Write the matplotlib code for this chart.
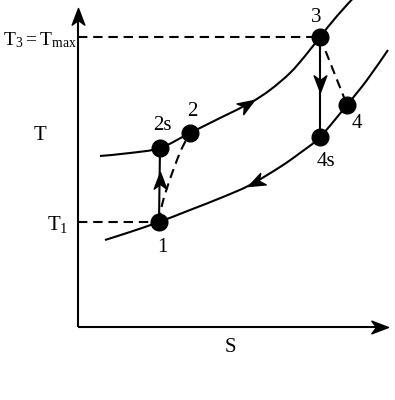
import numpy as np
import matplotlib
matplotlib.use("Agg")
import matplotlib.pyplot as plt
from matplotlib.path import Path
from matplotlib.patches import PathPatch
from matplotlib.markers import MarkerStyle
from matplotlib.transforms import Affine2D

plt.rcParams['font.family'] = ['Liberation Serif', 'DejaVu Serif']
plt.rcParams['mathtext.fontset'] = 'custom'
plt.rcParams['mathtext.rm'] = 'Liberation Serif'
plt.rcParams['mathtext.it'] = 'Liberation Serif'

H = 400  # T = H - pixel row (so T increases upward)

# High-pressure isobar (S, T)
upper_S = [100, 130, 160, 190, 220, 250, 270, 290, 305, 320, 337, 357]
upper_T = [H - v for v in [156, 153, 148, 133, 118, 103, 90, 73, 56, 37, 16, -6]]
# Low-pressure isobar
lower_S = [105, 130, 159, 190, 223, 250, 280, 300, 320, 347, 367, 388]
lower_T = [H - v for v in [240, 232, 222, 210, 197, 185, 167, 153, 137, 105, 80, 50]]
# Real compression 1 -> 2
comp_S = [159, 162, 167, 174, 182, 190]
comp_T = [H - v for v in [222, 205, 188, 168, 148, 133]]

# State points
state_names = ['1', '2s', '2', '3', '4s', '4']
state_S = [159, 160, 190, 320, 320, 347]
state_T = [H - v for v in [222, 148, 133, 37, 137, 105]]
label_S = [162, 162, 192, 316, 326, 357]
label_T = [H - v for v in [247, 126, 112, 17, 161, 123]]

# Axes origin / extent
origin_S, origin_T = 78, H - 327
s_end, t_end = 388, H - 8

fig = plt.figure(figsize=(3.95, 4.0), dpi=100)
ax = fig.add_axes([0, 0, 1, 1])
ax.set_xlim(0, 395)
ax.set_ylim(0, 400)
ax.axis('off')

LW = 1.5
st = dict(color='k', lw=LW, solid_capstyle='butt')
dash = (0, (4.5, 2.8))


def smooth(xs, ys, **kw):
    """Draw a smooth Catmull-Rom style Bezier path through the given points."""
    p = np.column_stack([xs, ys]).astype(float)
    verts = [p[0]]
    codes = [Path.MOVETO]
    n = len(p)
    for i in range(n - 1):
        p0 = p[i - 1] if i > 0 else p[i]
        p1, p2 = p[i], p[i + 1]
        p3 = p[i + 2] if i + 2 < n else p[i + 1]
        c1 = p1 + (p2 - p0) / 6.0
        c2 = p2 - (p3 - p1) / 6.0
        verts += [c1, c2, p2]
        codes += [Path.CURVE4] * 3
    ax.add_patch(PathPatch(Path(verts, codes), fill=False, edgecolor='k',
                           lw=LW, capstyle='butt', **kw))


head = Path([(0, 0), (-1, 0.38), (-0.72, 0), (-1, -0.38), (0, 0)],
            [Path.MOVETO, Path.LINETO, Path.LINETO, Path.LINETO, Path.CLOSEPOLY])


def arrowhead(s, t, ang, size=24):
    m = MarkerStyle(head, transform=Affine2D().rotate_deg(ang))
    ax.plot([s], [t], marker=m, markersize=size, color='k', linestyle='none', zorder=6)


# axes
ax.plot([origin_S, origin_S], [origin_T, t_end - 4], **st)
ax.plot([origin_S, s_end - 4], [origin_T, origin_T], **st)
arrowhead(origin_S, t_end, 90)
arrowhead(s_end, origin_T, 0)

# isobars
smooth(upper_S, upper_T)
smooth(lower_S, lower_T)

# guide lines
ax.plot([origin_S, state_S[3]], [state_T[3], state_T[3]], color='k', lw=LW, linestyle=dash)
ax.plot([origin_S, state_S[0]], [state_T[0], state_T[0]], color='k', lw=LW, linestyle=dash)

# isentropic processes
ax.plot([state_S[0], state_S[1]], [state_T[0], state_T[1]], **st)
ax.plot([state_S[3], state_S[4]], [state_T[3], state_T[4]], **st)
# real processes
smooth(comp_S, comp_T, linestyle=dash)
ax.plot([state_S[3], state_S[5]], [state_T[3], state_T[5]], color='k', lw=LW, linestyle=dash)

# direction arrows
arrowhead(159.5, H - 172, 90)
arrowhead(320, H - 92, -90)
arrowhead(254, H - 100, 32)
arrowhead(248, H - 185.5, 206)

# state points
ax.plot(state_S, state_T, 'o', color='k', markersize=12, zorder=7)
for n, s, t in zip(state_names, label_S, label_T):
    ax.text(s, t, n, ha='center', va='center', fontsize=15)

ax.text(40, H - 136, 'T', ha='center', va='center', fontsize=15)
ax.text(230, H - 347, 'S', ha='center', va='center', fontsize=15)
ax.text(68, H - 230, r'$\mathrm{T}_1$', ha='right', va='baseline', fontsize=15)
ax.text(77, H - 45, r'$\mathrm{T}_3 = \mathrm{T}_{\mathrm{max}}$', ha='right',
        va='baseline', fontsize=14)

fig.savefig('out.png', dpi=100)
